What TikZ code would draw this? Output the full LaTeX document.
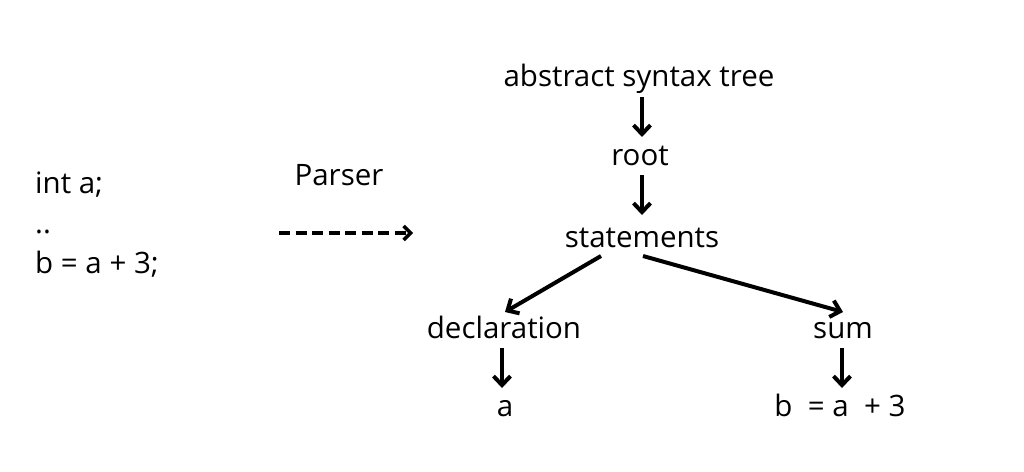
\documentclass[tikz,border=0pt]{standalone}
\usepackage{fontspec}
\setmainfont{Open Sans}
\usetikzlibrary{arrows.meta}
\begin{document}
\begin{tikzpicture}[x=1pt,y=-1pt,
  lbl/.style={anchor=base,inner sep=0pt,font=\fontsize{29.5}{36}\selectfont},
  lleft/.style={lbl,anchor=base west},
  tarrow/.style={line width=4pt,-{Straight Barb[length=9pt,width=17pt,line width=4pt]}},
  darrow/.style={line width=3.5pt,dash pattern=on 11pt off 5.5pt,-{Straight Barb[length=7pt,width=14pt,line width=3.5pt]}}]
\useasboundingbox (0,0) rectangle (1024,471);
\fill[white] (0,0) rectangle (1024,471);
\node[lleft] (l1) at (35,193) {int a;};
\node[lleft] (l2) at (35,233) {..};
\node[lleft] (l3) at (35,273) {b = a + 3;};
\node[lbl] (parser) at (339,185) {Parser};
\coordinate (ds) at (279,233);
\coordinate (de) at (413,233);
\draw[darrow] (ds) -- (de);
\node[lbl] (ast) at (639,86) {abstract syntax tree};
\node[lbl] (root) at (640,165) {root};
\node[lbl] (st) at (642,247) {statements};
\node[lbl] (decl) at (504,338) {declaration};
\node[lbl] (sum) at (843,338) {sum};
\node[lbl] (a) at (505,416) {a};
\node[lbl] (b) at (840,416) {b\ \ = a\ \ + 3};
\coordinate (ast-out) at (642,97);
\coordinate (root-in) at (642,137);
\coordinate (root-out) at (642,175);
\coordinate (st-in) at (642,215);
\coordinate (st-outl) at (601,256);
\coordinate (st-outr) at (643,256);
\coordinate (decl-in) at (505,312);
\coordinate (sum-in) at (843,312);
\coordinate (decl-out) at (502,348);
\coordinate (a-in) at (502,388);
\coordinate (sum-out) at (842,348);
\coordinate (b-in) at (842,388);
\draw[tarrow] (ast-out) -- (root-in);
\draw[tarrow] (root-out) -- (st-in);
\draw[tarrow] (st-outl) -- (decl-in);
\draw[tarrow] (st-outr) -- (sum-in);
\draw[tarrow] (decl-out) -- (a-in);
\draw[tarrow] (sum-out) -- (b-in);
\end{tikzpicture}
\end{document}
